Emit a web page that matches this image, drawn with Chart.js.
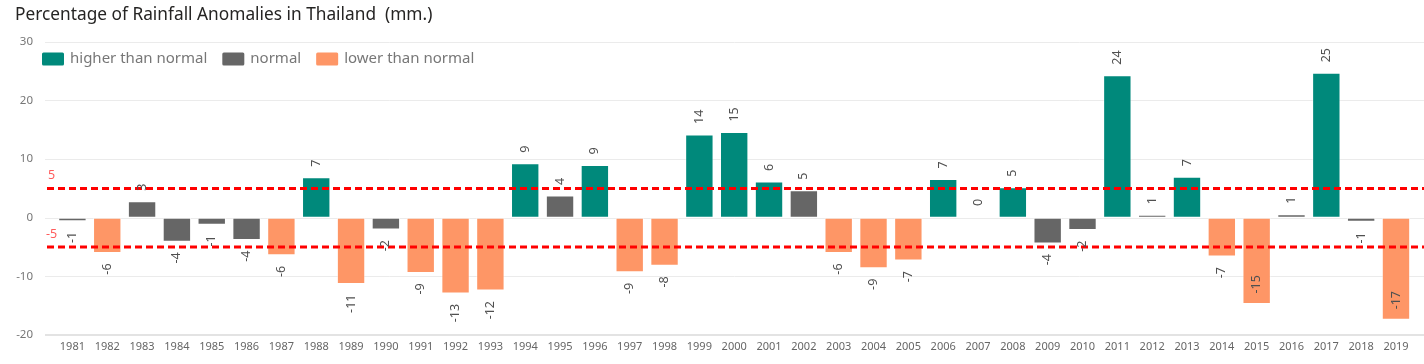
<!DOCTYPE html>
<html>
<head>
<meta charset="utf-8">
<script src="https://cdn.jsdelivr.net/npm/chart.js@4/dist/chart.umd.min.js"></script>
<style>
  html, body { margin: 0; padding: 0; background: #fff; }
  #wrap { position: relative; width: 1424px; height: 364px; }
</style>
</head>
<body>
<div id="wrap"><canvas id="rain"></canvas></div>
<script>
// Data
const years = ['1981','1982','1983','1984','1985','1986','1987','1988','1989','1990',
  '1991','1992','1993','1994','1995','1996','1997','1998','1999','2000',
  '2001','2002','2003','2004','2005','2006','2007','2008','2009','2010',
  '2011','2012','2013','2014','2015','2016','2017','2018','2019'];
const anomalies = [-0.6, -6.0, 2.8, -4.1, -1.2, -3.8, -6.4, 6.9, -11.3, -2.0,
  -9.4, -12.9, -12.4, 9.3, 3.8, 9.0, -9.3, -8.2, 14.2, 14.6,
  6.2, 4.7, -6.0, -8.6, -7.3, 6.6, 0.2, 5.2, -4.4, -2.1,
  24.3, 0.5, 7.0, -6.6, -14.7, 0.6, 24.7, -0.7, -17.4];
// h = higher than normal, n = normal, l = lower than normal
const classes = ['n','l','n','n','n','n','l','h','l','n',
  'l','l','l','h','n','h','l','l','h','h',
  'h','n','l','l','l','h','n','h','n','n',
  'h','n','h','l','l','n','h','n','l'];
const seriesKeys = ['h', 'n', 'l'];
const seriesNames = ['higher than normal', 'normal', 'lower than normal'];
const seriesColors = ['#00897b', '#666666', '#fe9666'];
const refLines = [5, -5];
const yTicks = [-20, -10, 0, 10, 20, 30];

const FONT = '"Noto Sans", "Open Sans", sans-serif';
const GRID_START = 45;

// One dataset per class, null where the year belongs to another class
function buildDatasets() {
  return seriesKeys.map((key, i) => ({
    label: seriesNames[i],
    data: anomalies.map((v, j) => classes[j] === key ? v : null),
    backgroundColor: seriesColors[i],
    borderColor: 'rgba(255,255,255,0.45)',
    borderWidth: 1,
    borderSkipped: false,
    barPercentage: 0.815,
    categoryPercentage: 1.0
  }));
}

// Rounds away from zero like the source labels
function labelText(v) {
  const r = Math.sign(v) * Math.round(Math.abs(v));
  return r === 0 ? '0' : String(r);
}

const extrasPlugin = {
  id: 'extras',
  beforeDatasetsDraw(chart) {
    // horizontal grid lines, wider than the plot area
    const ctx = chart.ctx, y = chart.scales.y;
    ctx.save();
    yTicks.forEach(t => {
      const py = Math.round(y.getPixelForValue(t));
      ctx.strokeStyle = t === -20 ? '#e3e3e3' : '#ebebeb';
      ctx.lineWidth = t === -20 ? 2 : 1;
      ctx.beginPath();
      ctx.moveTo(GRID_START, t === -20 ? py : py + 0.5);
      ctx.lineTo(chart.width, t === -20 ? py : py + 0.5);
      ctx.stroke();
    });
    ctx.restore();
  },
  afterDatasetsDraw(chart) {
    const ctx = chart.ctx, y = chart.scales.y, area = chart.chartArea;

    // dashed reference lines and their labels
    ctx.save();
    refLines.forEach(v => {
      const py = y.getPixelForValue(v);
      ctx.strokeStyle = '#ff0000';
      ctx.lineWidth = 3;
      ctx.setLineDash([7, 4]);
      ctx.beginPath();
      ctx.moveTo(GRID_START + 2, py);
      ctx.lineTo(chart.width, py);
      ctx.stroke();
      ctx.setLineDash([]);
      ctx.fillStyle = '#ff5c5c';
      ctx.font = '12.5px ' + FONT;
      ctx.textAlign = 'left';
      ctx.textBaseline = 'middle';
      ctx.fillText(String(v), v < 0 ? 46 : 48, py - 13);
    });
    ctx.restore();

    // rotated value labels
    ctx.save();
    ctx.font = '12.5px ' + FONT;
    ctx.fillStyle = '#505050';
    ctx.textBaseline = 'middle';
    chart.data.datasets.forEach((ds, di) => {
      const meta = chart.getDatasetMeta(di);
      meta.data.forEach((bar, i) => {
        const v = ds.data[i];
        if (v === null) return;
        const txt = labelText(v);
        const w = ctx.measureText(txt).width;
        const gap = 10.5;
        let anchorY, align;
        if (v >= 0) {
          anchorY = bar.y - gap;
          align = 'left';
        } else if (bar.y + gap + w > area.bottom - 5) {
          // no room below: put it inside the bar end
          anchorY = bar.y - gap;
          align = 'left';
        } else {
          anchorY = bar.y + gap;
          align = 'right';
        }
        ctx.save();
        ctx.translate(bar.x, anchorY);
        ctx.rotate(-Math.PI / 2);
        ctx.textAlign = align;
        ctx.fillText(txt, 0, 0);
        ctx.restore();
      });
    });
    ctx.restore();

    // legend drawn over the top of the plot
    ctx.save();
    ctx.font = '15px ' + FONT;
    ctx.textBaseline = 'middle';
    ctx.textAlign = 'left';
    let x = 42;
    const ly = 59;
    seriesNames.forEach((name, i) => {
      ctx.fillStyle = seriesColors[i];
      ctx.beginPath();
      ctx.roundRect(x, ly - 6.5, 22, 13, 1.5);
      ctx.fill();
      ctx.fillStyle = '#777777';
      ctx.fillText(name, x + 28, ly);
      x += 28 + ctx.measureText(name).width + 15;
    });
    ctx.restore();
  }
};

new Chart(document.getElementById('rain'), {
  type: 'bar',
  data: { labels: years, datasets: buildDatasets() },
  plugins: [extrasPlugin],
  options: {
    responsive: true,
    maintainAspectRatio: false,
    animation: false,
    layout: { padding: { left: 15, right: 10.6, top: 0, bottom: 0 } },
    plugins: {
      legend: { display: false },
      tooltip: { enabled: false },
      title: {
        display: true,
        text: 'Percentage of Rainfall Anomalies in Thailand  (mm.)',
        align: 'start',
        color: '#252423',
        font: { family: FONT, size: 17.3, weight: 'normal' },
        padding: { top: 5, bottom: 16 }
      }
    },
    scales: {
      x: {
        stacked: true,
        grid: { display: false, drawTicks: false },
        border: { display: false },
        ticks: { color: '#666666', font: { family: FONT, size: 11 }, padding: 5, maxRotation: 0, autoSkip: false },
        afterFit(scale) { scale.height = 28; }
      },
      y: {
        stacked: true,
        min: -20,
        max: 30,
        grid: { display: false, drawTicks: false },
        border: { display: false },
        ticks: { stepSize: 10, color: '#777777', font: { family: FONT, size: 11.5 }, padding: 22 },
        afterFit(scale) { scale.width = 40; }
      }
    }
  }
});
</script>
</body>
</html>
